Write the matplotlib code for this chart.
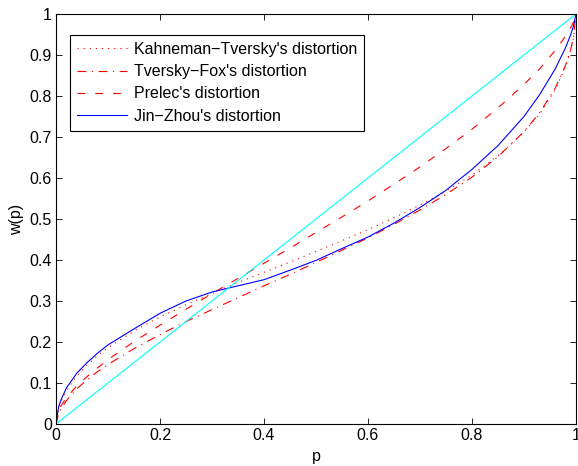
import matplotlib
matplotlib.use("Agg")
import matplotlib.pyplot as plt

plt.rcParams["font.family"] = ["Liberation Sans", "DejaVu Sans"]

# probability grid the curves were read at
p = [0, 0.005, 0.01, 0.02, 0.04, 0.06, 0.08, 0.1, 0.15, 0.2, 0.25, 0.3, 0.35,
     0.4, 0.45, 0.5, 0.55, 0.6, 0.65, 0.7, 0.75, 0.8, 0.85, 0.9, 0.93, 0.96,
     0.98, 0.99, 0.995, 1]

kt = [0, 0.037, 0.055, 0.081, 0.117, 0.144, 0.167, 0.186, 0.227, 0.261, 0.291,
      0.318, 0.345, 0.370, 0.395, 0.421, 0.447, 0.474, 0.503, 0.534, 0.568,
      0.607, 0.654, 0.712, 0.756, 0.815, 0.871, 0.912, 0.940, 1]

tf = [0, 0.025, 0.038, 0.057, 0.086, 0.108, 0.128, 0.145, 0.184, 0.218, 0.250,
      0.279, 0.308, 0.337, 0.365, 0.394, 0.424, 0.454, 0.487, 0.522, 0.560,
      0.602, 0.652, 0.713, 0.759, 0.819, 0.875, 0.915, 0.943, 1]

prelec = [0, 0.032, 0.045, 0.064, 0.093, 0.116, 0.137, 0.157, 0.201, 0.241,
          0.280, 0.318, 0.355, 0.392, 0.429, 0.467, 0.505, 0.544, 0.585, 0.627,
          0.672, 0.719, 0.771, 0.828, 0.866, 0.911, 0.946, 0.967, 0.980, 1]

jz = [0, 0.042, 0.060, 0.088, 0.124, 0.150, 0.173, 0.193, 0.232, 0.270, 0.300,
      0.322, 0.337, 0.352, 0.375, 0.399, 0.428, 0.456, 0.490, 0.528, 0.570,
      0.621, 0.679, 0.750, 0.803, 0.866, 0.918, 0.950, 0.970, 1]

labels = ["Kahneman\u2212Tversky's distortion", "Tversky\u2212Fox's distortion",
          "Prelec's distortion", "Jin\u2212Zhou's distortion"]

fs = 11.5
fig = plt.figure(figsize=(5.78, 4.66), dpi=100)
ax = fig.add_axes([0.0969, 0.0901, 0.8996, 0.8799])

lw = 0.8
ax.plot(p, kt, color="red", linestyle=(0, (1, 4.5)), linewidth=lw, label=labels[0])
ax.plot(p, tf, color="red", linestyle=(0, (8, 5, 1, 5)), linewidth=lw, label=labels[1])
ax.plot(p, prelec, color="red", linestyle=(0, (7, 9)), linewidth=lw, label=labels[2])
ax.plot(p, jz, color="blue", linestyle="-", linewidth=lw, label=labels[3])
ax.plot([0, 1], [0, 1], color="cyan", linewidth=lw)

ax.set_xlim(0, 1)
ax.set_ylim(0, 1)
ax.set_xticks([0, 0.2, 0.4, 0.6, 0.8, 1])
ax.set_xticklabels(["0", "0.2", "0.4", "0.6", "0.8", "1"])
ax.set_yticks([i / 10 for i in range(11)])
ax.set_yticklabels(["0"] + [f"0.{i}" for i in range(1, 10)] + ["1"])
ax.tick_params(direction="in", top=True, right=True, length=4, labelsize=fs,
               width=0.6, pad=3)
for s in ax.spines.values():
    s.set_linewidth(0.8)
ax.set_xlabel("p", fontsize=fs, labelpad=4)
ax.set_ylabel("w(p)", fontsize=fs, labelpad=4)

leg = ax.legend(loc="upper left", bbox_to_anchor=(0.027, 0.949), borderaxespad=0,
                fontsize=fs, handlelength=3.1, labelspacing=0.45, fancybox=False,
                framealpha=1, edgecolor="black", borderpad=0.45, handletextpad=0.45)
leg.get_frame().set_linewidth(0.8)

fig.savefig("out.png", dpi=100)
